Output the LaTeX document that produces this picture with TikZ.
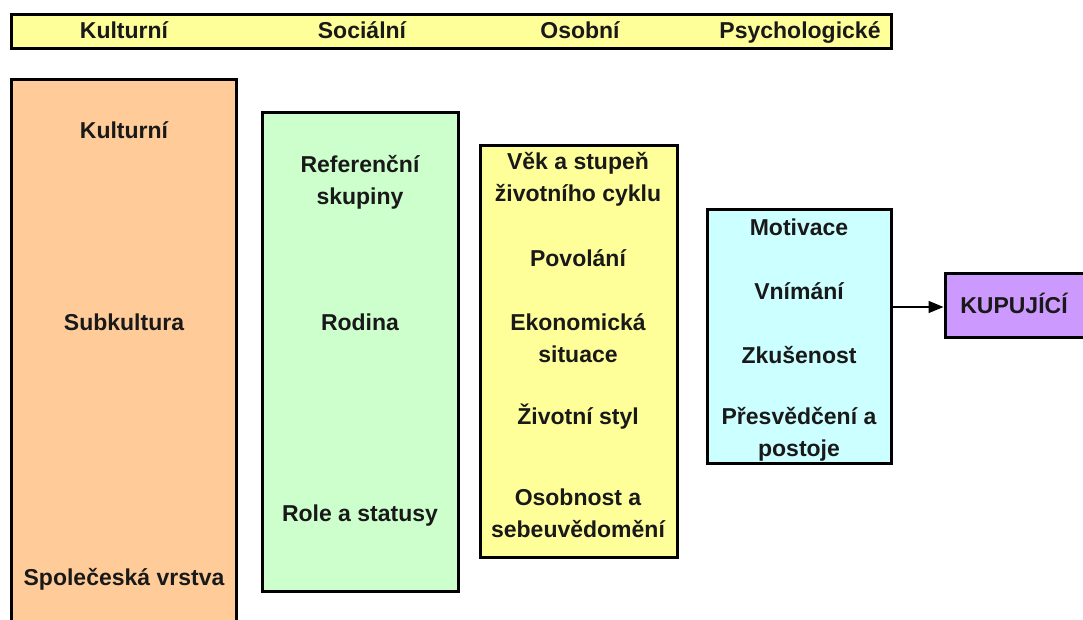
\documentclass[tikz,border=0pt]{standalone}
\usepackage{fontspec}
\setmainfont{Liberation Sans}
\usetikzlibrary{arrows.meta}
\definecolor{cultfill}{HTML}{FFCC99}
\definecolor{socfill}{HTML}{CCFFCC}
\definecolor{persfill}{HTML}{FFFF99}
\definecolor{psyfill}{HTML}{CCFFFF}
\definecolor{buyfill}{HTML}{CC99FF}
\tikzset{
  panel/.style={draw=black, line width=3pt, inner sep=0pt},
  lbl/.style={font=\fontsize{23}{32}\selectfont\bfseries, align=center, inner sep=0pt, text=black!90},
  one/.style={lbl, text height=16.5pt, text depth=5pt},
}
\begin{document}
\begin{tikzpicture}[x=1pt,y=-1pt]
\clip (0,0) rectangle (1083,619);
\useasboundingbox (0,0) rectangle (1083,619);
\fill[white] (0,0) rectangle (1083,619);

% header bar with the four factor groups
\node[panel, fill=persfill, minimum width=880pt, minimum height=34pt] (bar) at (451,31) {};
\node[one] (h1) at (124,33) {Kulturní};
\node[one] (h2) at (362,33) {Sociální};
\node[one] (h3) at (580,33) {Osobní};
\node[one] (h4) at (800,33) {Psychologické};

% cultural factors
\node[panel, fill=cultfill, minimum width=225pt, minimum height=560pt] (cult) at (123.5,359) {};
\node[one] (c1) at (124,133) {Kulturní};
\node[one] (c2) at (124,325) {Subkultura};
\node[one] (c3) at (124,580) {Společeská vrstva};

% social factors
\node[panel, fill=socfill, minimum width=196pt, minimum height=479pt] (soc) at (360,351.5) {};
\node[lbl] (s1) at (360,182) {Referenční\\skupiny};
\node[one] (s2) at (360,325) {Rodina};
\node[one] (s3) at (360,516) {Role a statusy};

% personal factors
\node[panel, fill=persfill, minimum width=197pt, minimum height=412pt] (pers) at (578.5,351) {};
\node[lbl] (p1) at (578,179) {Věk a stupeň\\životního cyklu};
\node[one] (p2) at (578,261) {Povolání};
\node[lbl] (p3) at (578,338) {Ekonomická\\situace};
\node[one] (p4) at (578,419) {Životní styl};
\node[lbl] (p5) at (578,513) {Osobnost a\\sebeuvědomění};

% psychological factors
\node[panel, fill=psyfill, minimum width=184pt, minimum height=254pt] (psy) at (799,336) {};
\node[one] (y1) at (799,230) {Motivace};
\node[one] (y2) at (799,294) {Vnímání};
\node[one] (y3) at (799,358) {Zkušenost};
\node[lbl] (y4) at (799,434) {Přesvědčení a\\postoje};

% buyer
\node[panel, fill=buyfill, minimum width=145pt, minimum height=64pt] (buy) at (1017.5,305) {};
\node[one] (b1) at (1014,308) {KUPUJÍCÍ};

\draw[line width=1.5pt, -{Triangle[length=15pt,width=12pt]}] (psy.east |- 0,307) -- (buy.west |- 0,307);
\end{tikzpicture}
\end{document}
